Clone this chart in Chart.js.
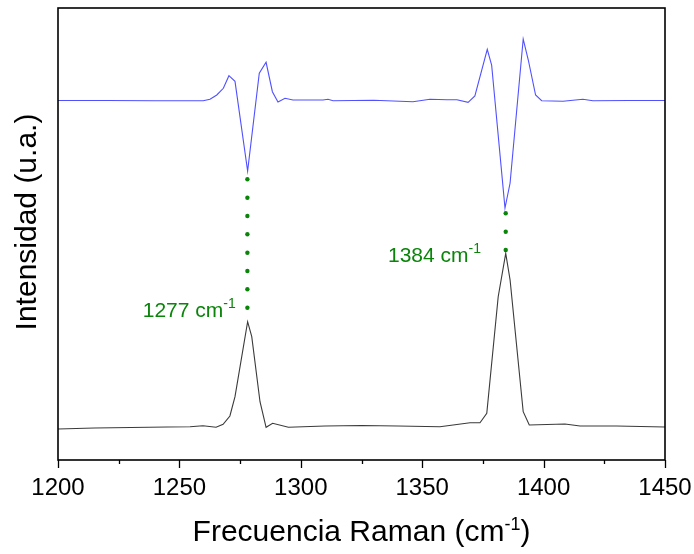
<!DOCTYPE html>
<html>
<head>
<meta charset="utf-8">
<script src="https://cdn.jsdelivr.net/npm/chart.js@4.4.1/dist/chart.umd.min.js"></script>
<style>
  html, body { margin: 0; padding: 0; background: #fff; }
</style>
</head>
<body>
<canvas id="raman" width="694" height="554"></canvas>
<script>
// Raman shift (cm-1) and intensity (a.u.)
const blueWn = [1200, 1220, 1240, 1259.8, 1262.6, 1265.4, 1268.1, 1270.4, 1272.9, 1278.1,
  1282.9, 1285.7, 1288.3, 1290.6, 1293.5, 1296.8, 1309.1, 1311.2, 1313.3, 1330,
  1346.2, 1353.2, 1360.2, 1364.3, 1368.9, 1371.7, 1376.8, 1378.6, 1384.1, 1386.2,
  1391.6, 1393.7, 1396.7, 1399.2, 1408, 1416.2, 1420.3, 1435, 1450];
const blueInt = [359.5, 359.5, 359.3, 359.3, 360.7, 365, 371.7, 384.3, 378.7, 289,
  386.7, 397.7, 368.3, 358, 361.7, 360, 360, 360.7, 359.3, 359.7,
  358.3, 360.7, 360.3, 360.3, 357.7, 364, 410.7, 395, 252, 277,
  421, 400, 365, 359.3, 358.7, 360.7, 359.3, 359.5, 359.5];

const blackWn = [1200, 1215, 1230, 1245, 1254.4, 1259.7, 1265.1, 1268.0, 1270.8, 1272.9,
  1278.1, 1279.8, 1283.2, 1285.7, 1288.4, 1294.9, 1310, 1325, 1340, 1357.3,
  1369.7, 1373.8, 1376.6, 1381.3, 1384.4, 1386.2, 1391.6, 1394.1, 1408.8, 1415.0,
  1430, 1450];
const blackInt = [31, 32, 32.5, 33, 33.3, 34.3, 32.7, 35.7, 44, 63.3,
  138.3, 123.3, 58.3, 32.7, 36.7, 32.7, 34, 34.5, 34, 33.3,
  37.3, 37.3, 46.7, 163.3, 206.7, 180, 48.3, 35, 36, 34,
  34, 33];

// green dotted guides
const guide1Wn = 1278;
const guide1Int = [280.7, 262.3, 244, 225.7, 207.3, 189, 170.7, 152.3];
const guide2Wn = 1384.4;
const guide2Int = [246.7, 228.3, 210];

// peak labels
const peakLabels = ['1277 cm', '1384 cm'];
const peakLabelWn = [1234.9, 1335.9];
const peakLabelInt = [143.3, 197.7];

const xTicks = [1200, 1225, 1250, 1275, 1300, 1325, 1350, 1375, 1400, 1425, 1450];

const FONT = '"Liberation Sans", Arial, Helvetica, sans-serif';
const GREEN = '#0a850a';

const toPts = (xs, ys) => ys.map((v, i) => ({ x: Array.isArray(xs) ? xs[i] : xs, y: v }));

// draws "base" + superscript + tail, starting at x (left aligned, alphabetic baseline)
function supText(ctx, x, y, base, sup, tail, size, supSize, raise) {
  ctx.textAlign = 'left';
  ctx.textBaseline = 'alphabetic';
  ctx.font = size + 'px ' + FONT;
  ctx.fillText(base, x, y);
  x += ctx.measureText(base).width;
  ctx.font = supSize + 'px ' + FONT;
  ctx.fillText(sup, x, y - raise);
  x += ctx.measureText(sup).width;
  if (tail) {
    ctx.font = size + 'px ' + FONT;
    ctx.fillText(tail, x, y);
  }
}

function supWidth(ctx, base, sup, tail, size, supSize) {
  ctx.font = size + 'px ' + FONT;
  let w = ctx.measureText(base).width + ctx.measureText(tail || '').width;
  ctx.font = supSize + 'px ' + FONT;
  return w + ctx.measureText(sup).width;
}

const decor = {
  id: 'decor',
  afterDraw(chart) {
    const { ctx, chartArea: a } = chart;
    const x = chart.scales.x, y = chart.scales.y;
    ctx.save();

    // frame
    ctx.strokeStyle = '#000';
    ctx.lineWidth = 1.6;
    ctx.strokeRect(a.left, a.top, a.right - a.left, a.bottom - a.top);

    // x ticks (major every 50, minor halfway)
    ctx.lineWidth = 1.3;
    xTicks.forEach(v => {
      const px = Math.round(x.getPixelForValue(v)) + 0.5;
      const len = v % 50 === 0 ? 8 : 4;
      ctx.beginPath();
      ctx.moveTo(px, a.bottom);
      ctx.lineTo(px, a.bottom + len);
      ctx.stroke();
    });

    // peak labels
    ctx.fillStyle = GREEN;
    peakLabels.forEach((t, i) => {
      supText(ctx, x.getPixelForValue(peakLabelWn[i]), y.getPixelForValue(peakLabelInt[i]),
        t, '-1', '', 21, 14, 9);
    });

    // axis titles
    ctx.fillStyle = '#000';
    const cx = (a.left + a.right) / 2;
    const w = supWidth(ctx, 'Frecuencia Raman (cm', '-1', ')', 30, 18);
    supText(ctx, cx - w / 2, a.bottom + 81, 'Frecuencia Raman (cm', '-1', ')', 30, 18, 11);

    ctx.translate(36, 222);
    ctx.rotate(-Math.PI / 2);
    ctx.font = '30px ' + FONT;
    ctx.textAlign = 'center';
    ctx.textBaseline = 'alphabetic';
    ctx.fillText('Intensidad (u.a.)', 0, 0);

    ctx.restore();
  }
};

new Chart(document.getElementById('raman'), {
  type: 'scatter',
  data: {
    datasets: [
      {
        data: toPts(blueWn, blueInt),
        showLine: true,
        borderColor: '#5050ff',
        borderWidth: 1.1,
        pointRadius: 0,
        tension: 0
      },
      {
        data: toPts(blackWn, blackInt),
        showLine: true,
        borderColor: '#3a3a3a',
        borderWidth: 1.1,
        pointRadius: 0,
        tension: 0
      },
      {
        data: toPts(guide1Wn, guide1Int).concat(toPts(guide2Wn, guide2Int)),
        showLine: false,
        pointRadius: 2.2,
        pointBackgroundColor: GREEN,
        pointBorderWidth: 0
      }
    ]
  },
  options: {
    responsive: false,
    animation: false,
    events: [],
    layout: { padding: { left: 58, right: 29, top: 8, bottom: 0 } },
    plugins: {
      legend: { display: false },
      tooltip: { enabled: false }
    },
    scales: {
      x: {
        type: 'linear',
        min: 1200,
        max: 1450,
        afterFit: (scale) => {
          scale.height = 94;
          scale.paddingLeft = 0;
          scale.paddingRight = 0;
        },
        grid: { display: false, drawTicks: false, tickLength: 0 },
        border: { display: false },
        ticks: {
          stepSize: 50,
          autoSkip: false,
          maxRotation: 0,
          padding: 14,
          color: '#000',
          font: { family: FONT, size: 24 },
          callback: (v) => String(v)
        }
      },
      y: {
        display: false,
        min: 0,
        max: 452
      }
    }
  },
  plugins: [decor]
});
</script>
</body>
</html>
